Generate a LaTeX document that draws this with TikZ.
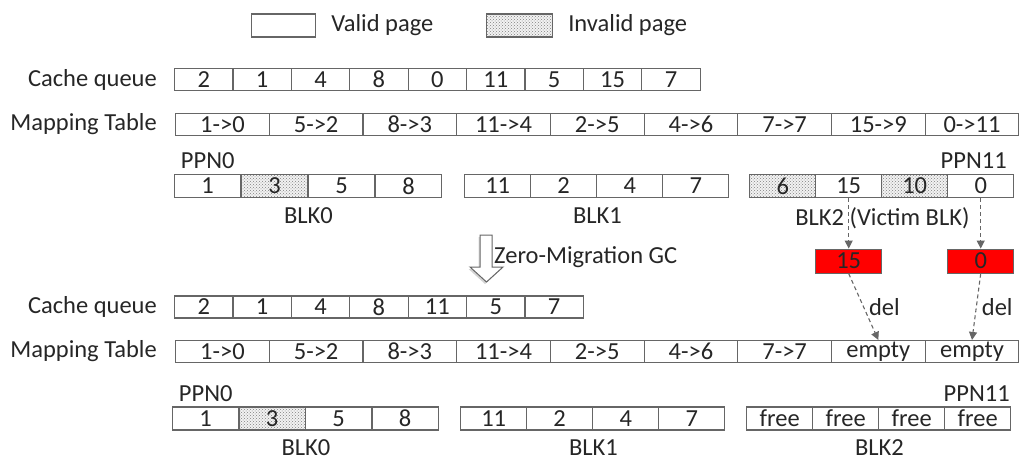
\documentclass[tikz,border=0pt]{standalone}
\usepackage{fontspec}
\setmainfont{Carlito}
\usetikzlibrary{arrows.meta, positioning, patterns, shadows}
\definecolor{linegray}{HTML}{666666}
\definecolor{textgray}{HTML}{262626}

\begin{document}
\begin{tikzpicture}[
    x=1pt, y=-1pt,
    font=\fontsize{24.5}{27}\selectfont,
    text=textgray,
    cell/.style={draw=linegray, line width=1.1pt, minimum height=22pt, inner sep=0pt, anchor=west},
    qcell/.style={cell, minimum width=58.4pt},
    mcell/.style={cell, minimum width=93.7pt},
    pcell/.style={cell, minimum width=66.3pt, minimum height=23pt},
    valid/.style={},
    invalid/.style={preaction={fill=gray!10}, pattern=crosshatch dots, pattern color=gray},
    victim/.style={pcell, fill=red, minimum height=24pt},
    txt/.style={inner sep=0pt},
    del/.style={draw=linegray, line width=1.1pt, dash pattern=on 4pt off 3pt, -{Triangle[length=8pt, width=8pt]}}
]
    \useasboundingbox (0,0) rectangle (1030,468);

    % legend
    \node[cell, minimum width=64pt, minimum height=23pt] (validbox) at (251,25.5) {};
    \node[txt, right=15pt of validbox] (validtxt) {Valid page};
    \node[cell, invalid, minimum width=66pt, minimum height=23pt] (invalidbox) at (486,25.5) {};
    \node[txt, right=15pt of invalidbox] (invalidtxt) {Invalid page};

    % before GC
    \foreach \v [count=\i] in {2,1,4,8,0,11,5,15,7}
        \node[qcell] (cqa-\i) at ({174+58.4*(\i-1)}, 79.5) {\v};
    \node[txt, left=17pt of cqa-1] (cqalbl) {Cache queue};

    \foreach \v [count=\i] in {1->0,5->2,8->3,11->4,2->5,4->6,7->7,15->9,0->11}
        \node[mcell] (mta-\i) at ({175+93.7*(\i-1)}, 124.5) {\v};
    \node[txt, left=18pt of mta-1] (mtalbl) {Mapping Table};

    \foreach \v/\s [count=\i] in {1/valid,3/invalid,5/valid,8/valid}
        \node[pcell, \s] (pa0-\i) at ({174+67*(\i-1)}, 186) {\v};
    \foreach \v/\s [count=\i] in {11/valid,2/valid,4/valid,7/valid}
        \node[pcell, \s] (pa1-\i) at ({464+66*(\i-1)}, 186) {\v};
    \foreach \v/\s [count=\i] in {6/invalid,15/valid,10/invalid,0/valid}
        \node[pcell, \s] (pa2-\i) at ({749+66*(\i-1)}, 186) {\v};

    \node[txt, above=5pt of pa0-1] (ppna0) {PPN0};
    \node[txt, above=5pt of pa2-4, xshift=-7pt] (ppna11) {PPN11};
    \node[txt, below=9pt of pa0-2.south east] (blka0) {BLK0};
    \node[txt, below=9pt of pa1-2.south east] (blka1) {BLK1};
    \node[txt, below=9pt of pa2-2.south east] (blka2) {BLK2 (Victim BLK)};

    % victim pages
    \node[victim, below=50.5pt of pa2-2] (red15) {15};
    \node[victim, below=50.5pt of pa2-4] (red0) {0};

    % GC step
    \draw[draw=linegray, fill=white, line width=1pt, drop shadow={shadow xshift=-1.5pt, shadow yshift=-2pt, opacity=0.35}]
        (480,235) -- (492,235) -- (492,267) -- (503,267) -- (486.5,282) -- (470,267) -- (480,267) -- cycle;
    \node[txt, anchor=west] (gclbl) at (494,257) {Zero-Migration GC};

    % after GC
    \foreach \v [count=\i] in {2,1,4,8,11,5,7}
        \node[qcell] (cqb-\i) at ({174+58.4*(\i-1)}, 307) {\v};
    \node[txt, left=17pt of cqb-1] (cqblbl) {Cache queue};

    \foreach \v [count=\i] in {1->0,5->2,8->3,11->4,2->5,4->6,7->7,empty,empty}
        \node[mcell] (mtb-\i) at ({175+93.7*(\i-1)}, 351.5) {\v};
    \node[txt, left=18pt of mtb-1] (mtblbl) {Mapping Table};

    \foreach \v/\s [count=\i] in {1/valid,3/invalid,5/valid,8/valid}
        \node[pcell, \s] (pb0-\i) at ({172+66.5*(\i-1)}, 418.5) {\v};
    \foreach \v [count=\i] in {11,2,4,7}
        \node[pcell] (pb1-\i) at ({460+66*(\i-1)}, 418.5) {\v};
    \foreach \v [count=\i] in {free,free,free,free}
        \node[pcell] (pb2-\i) at ({746+66*(\i-1)}, 418.5) {\v};

    \node[txt, above=5pt of pb0-1] (ppnb0) {PPN0};
    \node[txt, above=5pt of pb2-4, xshift=-1pt] (ppnb11) {PPN11};
    \node[txt, below=9pt of pb0-2.south east] (blkb0) {BLK0};
    \node[txt, below=9pt of pb1-2.south east] (blkb1) {BLK1};
    \node[txt, below=9pt of pb2-2.south east] (blkb2) {BLK2};

    % connectors
    \draw[del] (pa2-2.south) -- (red15.north);
    \draw[del] (pa2-4.south) -- (red0.north);
    \draw[del] (red15.south) -- node[txt, right=5pt] {del} (mtb-8.north);
    \draw[del] (red0.south) -- node[txt, right=5pt] {del} (mtb-9.north);
\end{tikzpicture}
\end{document}
